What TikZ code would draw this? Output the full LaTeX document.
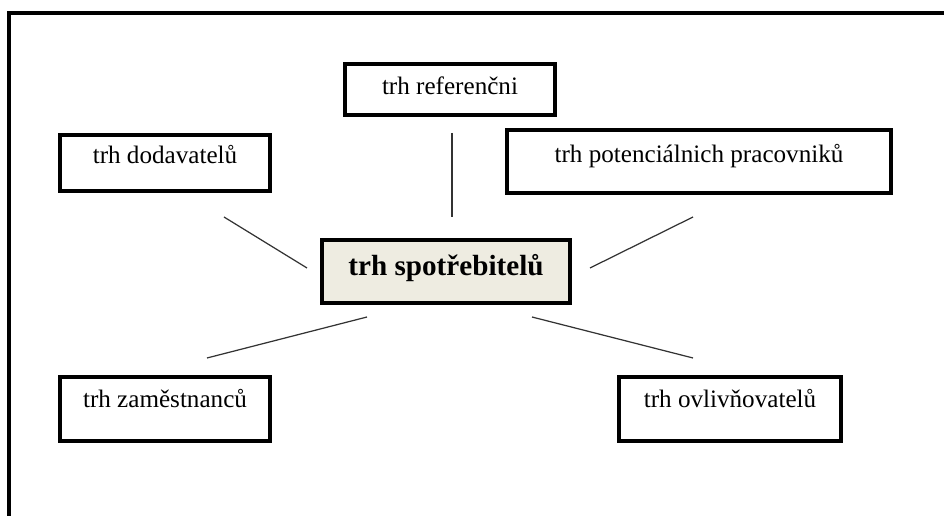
\documentclass[tikz,border=0pt]{standalone}
\usepackage{fontspec}
\setmainfont{Liberation Serif}
\usepackage{tikz}
\usepackage{xcolor}

\definecolor{corefill}{HTML}{EEECE1}

\begin{document}
\begin{tikzpicture}[
  x=0.02cm, y=-0.02cm,
  % --- styles ---
  frame/.style={draw, line width=2.3pt},
  market/.style={
    draw, line width=2.2pt, fill=white, align=center, inner sep=0pt,
    font=\fontsize{14.3}{17}\selectfont, text height=0.3cm, text depth=0.3cm
  },
  core/.style={
    market, fill=corefill, font=\bfseries\fontsize{16.6}{20}\selectfont,
    text height=0.35cm, text depth=0.2cm
  },
  link/.style={line width=0.7pt, draw=black!80}
]

\useasboundingbox (0,0) rectangle (944,516);

% ======================================================
% Outer frame (only top and left edges show)
% ======================================================
\draw[frame] (9,516) -- (9,13) -- (944,13);

% ======================================================
% Markets
% ======================================================
\node[core]   (spo) at (446,271.5) [minimum width=4.96cm, minimum height=1.26cm] {trh spotřebitelů};

\node[market] (ref) at (450,89.5)  [minimum width=4.2cm,  minimum height=1.02cm, text depth=0.1cm] {trh referenčni};
\node[market] (dod) at (165,163)   [minimum width=4.2cm,  minimum height=1.12cm, text depth=0.26cm] {trh dodavatelů};
\node[market] (pot) at (699,161.5) [minimum width=7.68cm, minimum height=1.26cm, text depth=0.26cm] {trh potenciálnich pracovniků};
\node[market] (zam) at (165,409)   [minimum width=4.2cm,  minimum height=1.28cm, text depth=0.34cm] {trh zaměstnanců};
\node[market] (ovl) at (730,409)   [minimum width=4.44cm, minimum height=1.28cm, text depth=0.34cm] {trh ovlivňovatelů};

% ======================================================
% Free-standing links (they stop short of the boxes)
% ======================================================
\coordinate (dod-a) at (224,217);  \coordinate (dod-b) at (307,268);
\coordinate (ref-a) at (452,133);  \coordinate (ref-b) at (452,217);
\coordinate (pot-a) at (693,217);  \coordinate (pot-b) at (590,268);
\coordinate (zam-a) at (207,358);  \coordinate (zam-b) at (367,317);
\coordinate (ovl-a) at (693,358);  \coordinate (ovl-b) at (532,317);

\draw[link] (dod-a) -- (dod-b);
\draw[link] (ref-a) -- (ref-b);
\draw[link] (pot-a) -- (pot-b);
\draw[link] (zam-a) -- (zam-b);
\draw[link] (ovl-a) -- (ovl-b);

\end{tikzpicture}
\end{document}
